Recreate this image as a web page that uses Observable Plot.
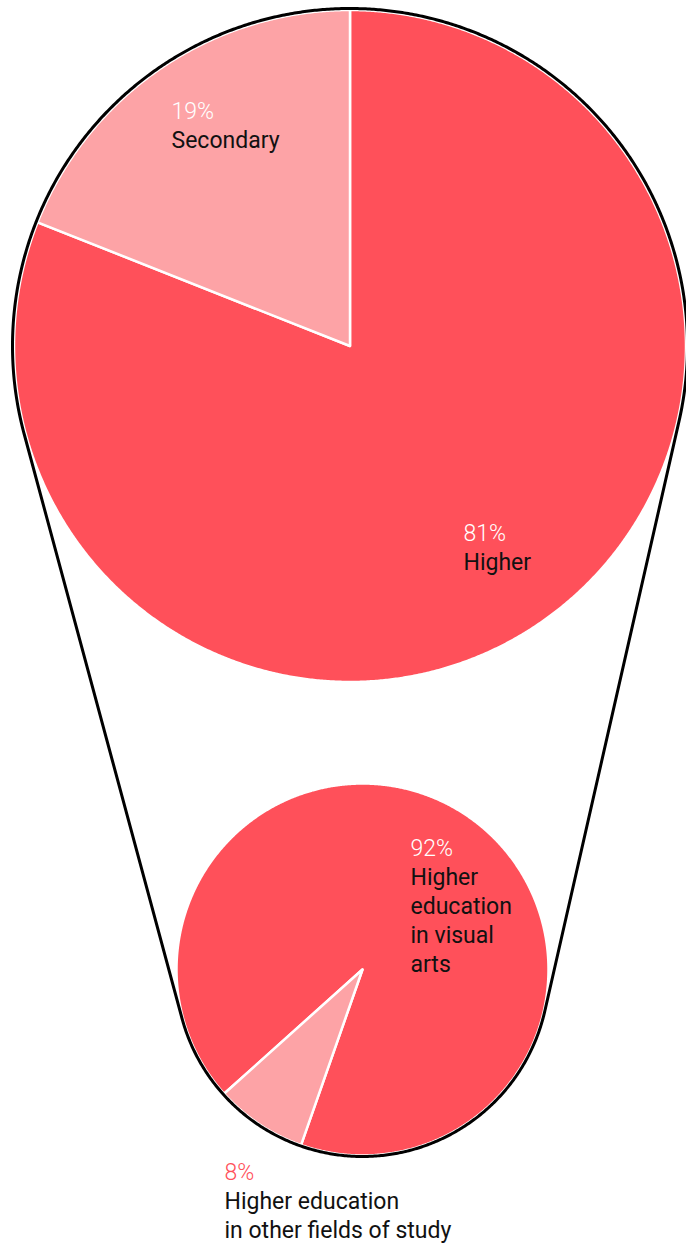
<!DOCTYPE html>
<html><head><meta charset="utf-8">
<script src="https://cdn.jsdelivr.net/npm/d3@7"></script>
<script src="https://cdn.jsdelivr.net/npm/@observablehq/plot@0.6"></script>
<style>html,body{margin:0;padding:0;background:#fff}svg{display:block}</style>
</head><body><div id="chart"></div>
<script>
// ---- data ----
const bigCategories = ["Higher", "Secondary"];
const bigValues = [81, 19];
const smallCategories = ["Higher education in visual arts", "Higher education in other fields of study"];
const smallValues = [92, 8];
const bigLabelText = ["Higher", "Secondary"];
const smallLabelText = ["Higher\neducation\nin visual\narts", "Higher education\nin other fields of study"];

// ---- style / layout ----
const sliceColors = ["#ff505a", "#fda3a6"];
const bigPctColors = ["#ffffff", "#ffffff"];
const smallPctColors = ["#ffffff", "#ff505a"];
const W = 686, H = 1246;
const big = {cx: 349.5, cy: 345.5, r: 336, or: 337.5, start: 0};
const small = {cx: 362, cy: 969, r: 186, or: 187, start: -131.9 * Math.PI / 180};
const bigLabelPos = [[463, 540], [171, 118]];      // baseline of percentage line
const smallLabelPos = [[410, 855], [224, 1179]];
const FS = 23, LH = 29;

function slicePoints(values, p) {
  const arcs = d3.pie().sort(null).startAngle(p.start).endAngle(p.start + 2 * Math.PI)(values);
  const pts = [];
  arcs.forEach((a, i) => {
    pts.push({x: p.cx, y: p.cy, i, fill: sliceColors[i]});
    const n = Math.max(2, Math.ceil((a.endAngle - a.startAngle) / 0.005));
    for (let k = 0; k <= n; k++) {
      const t = a.startAngle + (a.endAngle - a.startAngle) * k / n;
      pts.push({x: p.cx + p.r * Math.sin(t), y: p.cy - p.r * Math.cos(t), i, fill: sliceColors[i]});
    }
  });
  return pts;
}

function hullPoints(a, b) {
  const dx = b.cx - a.cx, dy = b.cy - a.cy, d = Math.hypot(dx, dy);
  const base = Math.atan2(dy, dx), phi = Math.acos((a.or - b.or) / d);
  const nL = base + phi, nR = base - phi;
  const pts = [];
  const n1 = 600;
  for (let k = 0; k <= n1; k++) {
    const t = nL + ((nR + 2 * Math.PI) - nL) * k / n1;
    pts.push({x: a.cx + a.or * Math.cos(t), y: a.cy + a.or * Math.sin(t)});
  }
  const n2 = 300;
  for (let k = 0; k <= n2; k++) {
    const t = nR + (nL - nR) * k / n2;
    pts.push({x: b.cx + b.or * Math.cos(t), y: b.cy + b.or * Math.sin(t)});
  }
  return pts;
}

const pctRows = [
  ...bigValues.map((v, i) => ({t: v + "%", x: bigLabelPos[i][0], y: bigLabelPos[i][1], c: bigPctColors[i]})),
  ...smallValues.map((v, i) => ({t: v + "%", x: smallLabelPos[i][0], y: smallLabelPos[i][1], c: smallPctColors[i]}))
];
const nameRows = [
  ...bigLabelText.map((t, i) => ({t, x: bigLabelPos[i][0], y: bigLabelPos[i][1] + LH - 0.71 * FS - 4})),
  ...smallLabelText.map((t, i) => ({t, x: smallLabelPos[i][0], y: smallLabelPos[i][1] + LH - 0.71 * FS - 4}))
];

const chart = Plot.plot({
  width: W, height: H,
  margin: 0,
  x: {type: "identity", axis: null},
  y: {type: "identity", axis: null},
  color: {type: "identity"},
  style: {fontFamily: "Roboto, sans-serif", background: "#fff"},
  marks: [
    Plot.line(slicePoints(bigValues, big), {x: "x", y: "y", z: "i", fill: "fill", stroke: "#fff", strokeWidth: 2.5, curve: "linear-closed"}),
    Plot.line(slicePoints(smallValues, small), {x: "x", y: "y", z: "i", fill: "fill", stroke: "#fff", strokeWidth: 2.5, curve: "linear-closed"}),
    Plot.line(hullPoints(big, small), {x: "x", y: "y", stroke: "#000", strokeWidth: 3, fill: "none", curve: "linear-closed"}),
    Plot.text(pctRows, {x: "x", y: "y", text: "t", fill: "c", fontSize: FS, fontWeight: 300, textAnchor: "start", lineAnchor: "bottom"}),
    Plot.text(nameRows, {x: "x", y: "y", text: "t", fill: "#111", fontSize: FS, fontWeight: 400, textAnchor: "start", lineAnchor: "top", lineHeight: LH / FS})
  ]
});
document.getElementById("chart").appendChild(chart);
</script>
</body></html>
